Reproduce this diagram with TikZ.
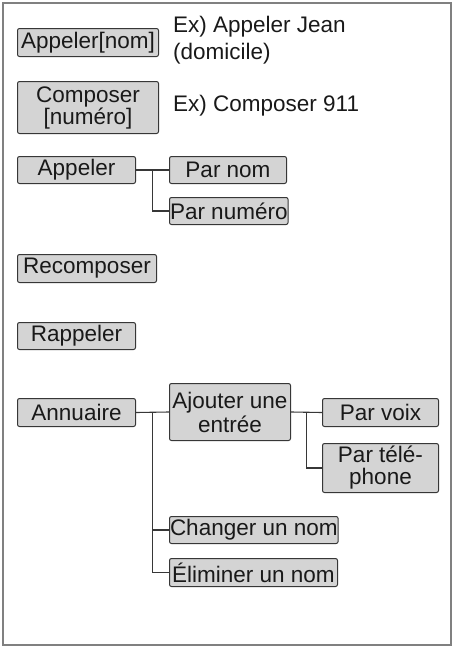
\documentclass[tikz,border=0pt]{standalone}
\usepackage{fontspec}
\setmainfont{Liberation Sans}
\usepackage{tikz}
\usetikzlibrary{positioning,calc}

\definecolor{boxfill}{RGB}{212,212,212}
\definecolor{boxline}{RGB}{55,55,55}
\definecolor{framecol}{RGB}{128,128,128}
\definecolor{inkcol}{RGB}{25,25,25}

\begin{document}
\begin{tikzpicture}[x=1pt,y=-1pt,
        font=\fontsize{22.5}{23}\selectfont,
        menu/.style={draw=boxline, fill=boxfill, rounded corners=2pt, line width=1pt,
            inner sep=0.5pt, align=center, anchor=north west, minimum height=28pt, text=inkcol},
        note/.style={anchor=west, align=left, text=inkcol, inner sep=0pt,
            font=\fontsize{22.5}{27}\selectfont},
        link/.style={draw=boxline, line width=1.1pt}]
    \useasboundingbox (0,0) rectangle (454,648);
    \draw[framecol, line width=2pt] (3,3) rectangle (451,645);

    \node[menu, minimum width=141pt] (appnom) at (17,28) {Appeler[nom]};
    \node[note] (exapp) at (173,40) {Ex) Appeler Jean\\(domicile)};
    \node[menu, minimum width=141pt, minimum height=52pt] (compnum) at (17,81) {Composer\\[-1pt][numéro]};
    \node[note] (excomp) at (173,106) {Ex) Composer 911};

    \node[menu, minimum width=118pt, minimum height=27pt] (appeler) at (17,156) {Appeler};
    \node[menu, minimum width=117pt, minimum height=27pt] (parnom) at (169,156) {Par nom};
    \node[menu, minimum width=117pt, minimum height=27pt] (parnum) at (169,197) {Par numéro};

    \node[menu, minimum width=139pt] (recomp) at (17,254) {Recomposer};
    \node[menu, minimum width=118pt, minimum height=27pt] (rappel) at (17,322) {Rappeler};

    \node[menu, minimum width=118pt] (annu) at (17,398) {Annuaire};
    \node[menu, minimum width=121pt, minimum height=57pt] (ajout) at (169,383) {Ajouter une\\[1pt]entrée};
    \node[menu, minimum width=116pt] (parvoix) at (322,398) {Par voix};
    \node[menu, minimum width=116pt, minimum height=49pt] (partel) at (322,443) {Par télé-\\[-1pt]phone};
    \node[menu, minimum width=159pt, minimum height=27pt] (changer) at (169,516) {Changer un nom};
    \node[menu, minimum width=168pt] (elim) at (169,558) {Éliminer un nom};

    % branches
    \coordinate (j1) at ($(appeler.east)!.5!(parnom.west)$);
    \coordinate (j2) at ($(annu.east)!.5!(ajout.west)$);
    \coordinate (j3) at ($(ajout.east)!.5!(parvoix.west)$);
    \draw[link] (appeler.east) -- (parnom.west);
    \draw[link] (j1) |- (parnum.west);
    \draw[link] (annu.east) -- (ajout.west);
    \draw[link] (j2) |- (changer.west);
    \draw[link] (j2) |- (elim.west);
    \draw[link] (ajout.east) -- (parvoix.west);
    \draw[link] (j3) |- (partel.west);
\end{tikzpicture}
\end{document}
